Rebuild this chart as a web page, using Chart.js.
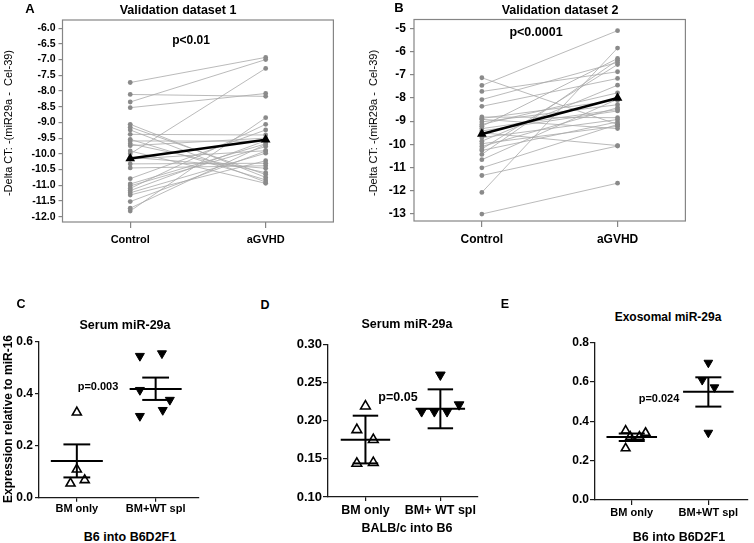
<!DOCTYPE html>
<html>
<head>
<meta charset="utf-8">
<script src="https://cdn.jsdelivr.net/npm/chart.js@4.4.1/dist/chart.umd.min.js"></script>
<style>
body { margin: 0; background: #fff; }
#fig { position: relative; width: 754px; height: 543px; overflow: hidden; font-family: "Liberation Sans", Arial, sans-serif; color: #000; }
#fig canvas { position: absolute; }
.t { position: absolute; white-space: nowrap; font-weight: bold; transform: translate(-50%, -50%); }
.yl { position: absolute; white-space: nowrap; transform: translate(-50%, -50%) rotate(-90deg); }
</style>
</head>
<body>
<div id="fig">
  <canvas id="graphA"></canvas>
  <canvas id="graphB"></canvas>
  <canvas id="graphC"></canvas>
  <canvas id="graphD"></canvas>
  <canvas id="graphE"></canvas>

  <div class="t" style="left:30px;top:8px;font-size:13px">A</div>
  <div class="t" style="left:178px;top:10px;font-size:12.5px">Validation dataset 1</div>
  <div class="t" style="left:191px;top:40px;font-size:12px">p&lt;0.01</div>
  <div class="yl" style="left:8px;top:123px;font-size:11px">-Delta CT: -(miR29a -&nbsp; Cel-39)</div>

  <div class="t" style="left:399px;top:7px;font-size:13px">B</div>
  <div class="t" style="left:560px;top:10px;font-size:12.5px">Validation dataset 2</div>
  <div class="t" style="left:536px;top:32px;font-size:12.5px">p&lt;0.0001</div>
  <div class="yl" style="left:373px;top:123px;font-size:11px">-Delta CT: -(miR29a -&nbsp; Cel-39)</div>

  <div class="t" style="left:21px;top:304px;font-size:12.5px">C</div>
  <div class="t" style="left:125px;top:325px;font-size:12.5px">Serum miR-29a</div>
  <div class="t" style="left:98px;top:386px;font-size:11px">p=0.003</div>
  <div class="yl" style="left:8px;top:419px;font-size:12px;font-weight:bold">Expression relative to miR-16</div>
  <div class="t" style="left:130px;top:537px;font-size:12.5px">B6 into B6D2F1</div>

  <div class="t" style="left:265px;top:305px;font-size:12.5px">D</div>
  <div class="t" style="left:407px;top:324px;font-size:12.5px">Serum miR-29a</div>
  <div class="t" style="left:398px;top:397px;font-size:12.5px">p=0.05</div>
  <div class="t" style="left:407px;top:528px;font-size:12.5px">BALB/c into B6</div>

  <div class="t" style="left:505px;top:304px;font-size:12.5px">E</div>
  <div class="t" style="left:668px;top:317px;font-size:12px">Exosomal miR-29a</div>
  <div class="t" style="left:659px;top:398px;font-size:11px">p=0.024</div>
  <div class="t" style="left:679px;top:537px;font-size:12.5px">B6 into B6D2F1</div>
</div>

<script>
// panel A / B: paired samples
const pairLabels = ['Control', 'aGVHD'];
const ctrlA = [-7.73, -8.11, -8.35, -8.53, -9.06, -9.15, -9.24, -9.38, -9.54, -9.59, -9.68, -9.74, -9.91, -10.0,
	-10.11, -10.17, -10.32, -10.45, -10.79, -10.96, -11.02, -11.10, -11.17, -11.24, -11.31, -11.52, -11.73, -11.82];
const gvhdA = [-6.93, -8.17, -7.0, -8.08, -10.75, -10.66, -10.9, -9.4, -10.83, -9.6, -10.6, -9.5, -10.94, -7.28,
	-10.46, -9.9, -10.3, -10.38, -9.24, -9.68, -9.77, -9.06, -9.58, -9.98, -10.22, -9.91, -9.7, -8.85];
const meanA = [-10.15, -9.55];
const ticksA = [-12.0, -11.5, -11.0, -10.5, -10.0, -9.5, -9.0, -8.5, -8.0, -7.5, -7.0, -6.5, -6.0];

const ctrlB = [-7.13, -7.46, -7.72, -8.07, -8.36, -8.82, -8.88, -8.92, -9.03, -9.14, -9.22, -9.32, -9.42, -9.5,
	-9.71, -9.86, -9.97, -10.09, -10.2, -10.26, -10.43, -10.66, -11.01, -11.34, -12.07, -13.0];
const gvhdB = [-9.14, -5.1, -6.87, -6.47, -7.16, -8.85, -8.1, -9.32, -8.29, -7.78, -6.3, -8.5, -8.56, -10.05,
	-8.93, -7.45, -9.22, -8.42, -6.56, -9.03, -6.37, -8.05, -9.14, -10.07, -5.85, -11.67];
const meanB = [-9.55, -8.0];
const ticksB = [-13, -12, -11, -10, -9, -8, -7, -6, -5];

// panels C-E: group scatter with mean and error bars
const groupsC = ['BM only', 'BM+WT spl'];
const bmC = [0.328, 0.109, 0.068, 0.055];
const bmJitC = [0, 0, 0.1, -0.08];
const splC = [0.545, 0.555, 0.414, 0.376, 0.337, 0.314];
const splJitC = [-0.2, 0.08, -0.2, 0.18, 0.09, -0.2];
const meanC = [0.141, 0.418];
const loC = [0.078, 0.376];
const hiC = [0.205, 0.462];
const ticksC = [0.0, 0.2, 0.4, 0.6];

const groupsD = ['BM only', 'BM+ WT spl'];
const bmD = [0.219, 0.188, 0.175, 0.144, 0.145];
const bmJitD = [0, -0.115, 0.105, -0.115, 0.105];
const splD = [0.26, 0.221, 0.212, 0.212, 0.212];
const splJitD = [0, 0.25, -0.25, -0.08, 0.09];
const meanD = [0.175, 0.2157];
const loD = [0.144, 0.19];
const hiD = [0.2065, 0.241];
const ticksD = [0.10, 0.15, 0.20, 0.25, 0.30];

const groupsE = ['BM only', 'BM+WT spl'];
const bmE = [0.353, 0.342, 0.322, 0.322, 0.263];
const bmJitE = [-0.08, 0.18, -0.02, 0.1, -0.08];
const splE = [0.698, 0.61, 0.573, 0.342];
const splJitE = [0, -0.08, 0.08, 0];
const meanE = [0.32, 0.551];
const loE = [0.30, 0.475];
const hiE = [0.338, 0.624];
const ticksE = [0.0, 0.2, 0.4, 0.6, 0.8];

const FAMILY = '"Liberation Sans", Arial, sans-serif';

// grey frame round the plot area (panels A and B)
const frame = {
	id: 'frame',
	beforeDatasetsDraw(chart, args, opts) {
		if (!opts.on) return;
		const a = chart.chartArea, ctx = chart.ctx;
		ctx.save();
		ctx.strokeStyle = '#858585';
		ctx.lineWidth = 1.2;
		ctx.strokeRect(a.left, a.top, a.right - a.left, a.bottom - a.top);
		ctx.restore();
	}
};

function panel(id, rect, area, datasets, cats, xRange, yTicks, yRange, o) {
	const el = document.getElementById(id);
	el.style.left = rect.x + 'px';
	el.style.top = rect.y + 'px';
	el.width = rect.w;
	el.height = rect.h;
	const xH = 26;
	return new Chart(el, {
		type: 'scatter',
		data: { datasets: datasets },
		options: {
			responsive: false,
			animation: false,
			devicePixelRatio: 1,
			events: [],
			layout: {
				padding: {
					left: 0,
					top: area.t - rect.y,
					right: rect.x + rect.w - area.r,
					bottom: rect.y + rect.h - area.b - xH
				}
			},
			plugins: {
				legend: { display: false },
				tooltip: { enabled: false },
				frame: { on: o.frame }
			},
			scales: {
				x: {
					type: 'linear',
					min: xRange[0],
					max: xRange[1],
					afterBuildTicks: s => { s.ticks = cats.map((c, i) => ({ value: i })); },
					afterFit: s => { s.height = xH; },
					ticks: {
						callback: v => cats[v],
						font: { family: FAMILY, weight: 'bold', size: o.xFont },
						color: '#000',
						padding: o.xPad,
						maxRotation: 0,
						autoSkip: false
					},
					grid: { drawOnChartArea: false, drawTicks: true, tickLength: o.xTick, color: o.axis, lineWidth: 1.2 },
					border: { display: !o.frame, color: o.axis, width: 1.3 }
				},
				y: {
					type: 'linear',
					min: yRange[0],
					max: yRange[1],
					afterBuildTicks: s => { s.ticks = yTicks.map(v => ({ value: v })); },
					afterFit: s => { s.width = area.l - rect.x; },
					ticks: {
						callback: v => v.toFixed(o.dec),
						font: { family: FAMILY, weight: 'bold', size: o.yFont },
						color: '#000',
						padding: o.yPad
					},
					grid: { drawOnChartArea: false, drawTicks: true, tickLength: o.yTick, color: o.axis, lineWidth: 1.2 },
					border: { display: !o.frame, color: o.axis, width: 1.3 }
				}
			}
		},
		plugins: [frame]
	});
}

function pairSets(ctrl, gvhd, mean) {
	const sets = [{
		data: [{ x: 0, y: mean[0] }, { x: 1, y: mean[1] }],
		showLine: true, borderColor: '#000', borderWidth: 2.6,
		pointStyle: 'triangle', pointRadius: 3, pointBackgroundColor: '#000', pointBorderColor: '#000',
		clip: false
	}];
	ctrl.forEach((c, i) => {
		sets.push({
			data: [{ x: 0, y: c }, { x: 1, y: gvhd[i] }],
			showLine: true, borderColor: '#a8a8a8', borderWidth: 0.8,
			pointRadius: 2.4, pointBackgroundColor: '#8a8a8a', pointBorderWidth: 0,
			clip: false
		});
	});
	return sets;
}

function groupSets(bm, bmJit, spl, splJit, mean, lo, hi, r) {
	const seg = pts => ({ data: pts, showLine: true, borderColor: '#000', borderWidth: 2, pointRadius: 0, clip: false });
	const sets = [];
	mean.forEach((m, i) => {
		sets.push(seg([{ x: i - 0.33, y: m }, { x: i + 0.33, y: m }]));
		sets.push(seg([{ x: i, y: lo[i] }, { x: i, y: hi[i] }]));
		sets.push(seg([{ x: i - 0.17, y: lo[i] }, { x: i + 0.17, y: lo[i] }]));
		sets.push(seg([{ x: i - 0.17, y: hi[i] }, { x: i + 0.17, y: hi[i] }]));
	});
	sets.push({
		data: bm.map((v, k) => ({ x: bmJit[k], y: v })),
		pointStyle: 'triangle', pointRadius: r,
		pointBackgroundColor: 'rgba(0,0,0,0)', pointBorderColor: '#000', pointBorderWidth: 1.6,
		clip: false
	});
	sets.push({
		data: spl.map((v, k) => ({ x: 1 + splJit[k], y: v })),
		pointStyle: 'triangle', pointRotation: 180, pointRadius: r,
		pointBackgroundColor: '#000', pointBorderColor: '#000', pointBorderWidth: 1,
		clip: false
	});
	return sets;
}

const topOpts = { frame: true, axis: '#858585', xFont: 11, xPad: 5, xTick: 6, yFont: 10.5, yPad: 3, yTick: 4, dec: 1 };

panel('graphA', { x: 0, y: 0, w: 340, h: 252 }, { l: 62.5, r: 334, t: 20, b: 222 },
	pairSets(ctrlA, gvhdA, meanA), pairLabels, [-0.5, 1.5], ticksA, [-12.17, -5.74], topOpts);

panel('graphB', { x: 346, y: 0, w: 346, h: 252 }, { l: 414, r: 686, t: 19.5, b: 221 },
	pairSets(ctrlB, gvhdB, meanB), pairLabels, [-0.5, 1.5], ticksB, [-13.3, -4.62],
	Object.assign({}, topOpts, { xFont: 12, yFont: 12, yPad: 4, dec: 0 }));

panel('graphC', { x: 0, y: 326, w: 205, h: 200 }, { l: 39, r: 199, t: 341.7, b: 497.7 },
	groupSets(bmC, bmJitC, splC, splJitC, meanC, loC, hiC, 5.2), groupsC, [-0.48, 1.54], ticksC, [0, 0.6],
	{ frame: false, axis: '#1a1a1a', xFont: 11, xPad: 1, xTick: 4, yFont: 12, yPad: 2, yTick: 4, dec: 1 });

panel('graphD', { x: 270, y: 328, w: 215, h: 200 }, { l: 328, r: 480, t: 344.3, b: 497 },
	groupSets(bmD, bmJitD, splD, splJitD, meanD, loD, hiD, 5.6), groupsD, [-0.5, 1.5], ticksD, [0.1, 0.3],
	{ frame: false, axis: '#1a1a1a', xFont: 12.5, xPad: 2.5, xTick: 4, yFont: 13, yPad: 1, yTick: 5, dec: 2 });

panel('graphE', { x: 540, y: 326, w: 214, h: 204 }, { l: 595, r: 752, t: 342.7, b: 500 },
	groupSets(bmE, bmJitE, splE, splJitE, meanE, loE, hiE, 5.0), groupsE, [-0.48, 1.51], ticksE, [0, 0.8],
	{ frame: false, axis: '#1a1a1a', xFont: 11, xPad: 1, xTick: 5, yFont: 12, yPad: 1, yTick: 5, dec: 1 });
</script>
</body>
</html>
